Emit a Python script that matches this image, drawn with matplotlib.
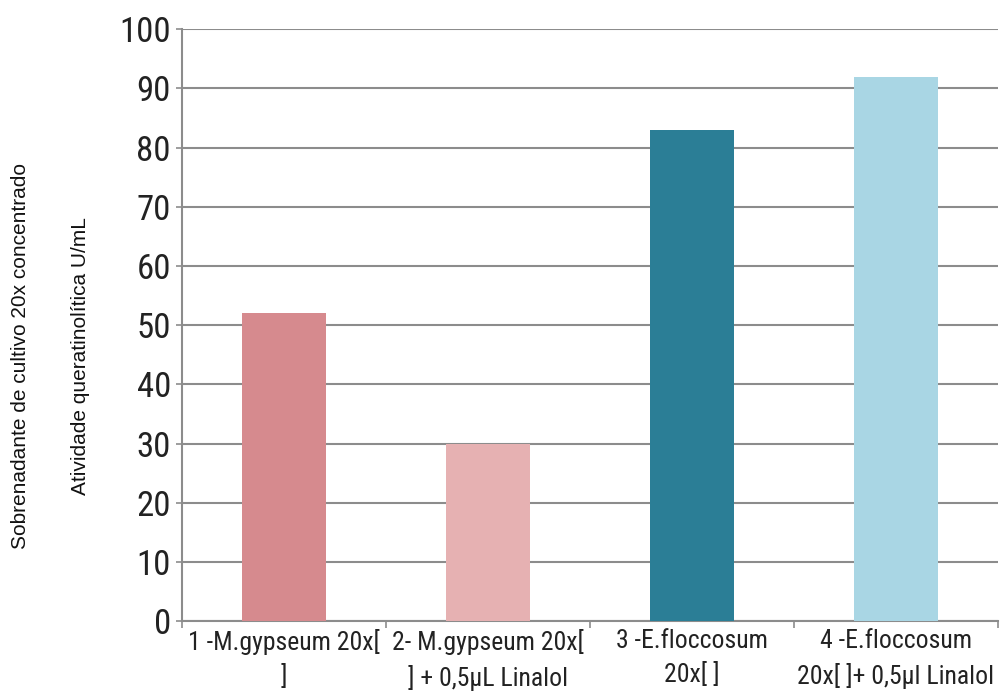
import matplotlib.pyplot as plt
import numpy as np
from matplotlib import font_manager

categories = [
    "1 -M.gypseum 20x[\n]",
    "2- M.gypseum 20x[\n] + 0,5µL Linalol",
    "3 -E.floccosum\n20x[ ]",
    "4 -E.floccosum\n20x[ ]+ 0,5µl Linalol",
]
activity = [52, 30, 83, 92]
bar_colors = ["#d68a8e", "#e6b1b2", "#2b7e96", "#a9d6e4"]
yticks = list(range(0, 101, 10))

# narrow face for tick labels if one is around, otherwise plain Arial metrics
installed = {f.name for f in font_manager.fontManager.ttflist}
narrow_name = next(
    (n for n in ("Liberation Sans Narrow", "Roboto Condensed", "Open Sans Condensed")
     if n in installed),
    None,
)
narrow = [narrow_name or "Liberation Sans", "DejaVu Sans"]
regular = ["Liberation Sans", "DejaVu Sans"]
ytick_size = 25 if narrow_name else 23
xtick_size = 18.5 if narrow_name else 15.5

fig = plt.figure(figsize=(10, 6.97), dpi=100)
ax = fig.add_axes([0.182, 0.109, 0.816, 0.849])

x = np.arange(len(categories))
ax.bar(x, activity, width=0.41, color=bar_colors, zorder=3)

ax.set_xlim(-0.5, len(categories) - 0.5)
ax.set_ylim(0, 100)
ax.set_yticks(yticks)
ax.set_yticklabels([str(v) for v in yticks], family=narrow, fontsize=ytick_size, color="#222222")
ax.yaxis.grid(True, color="#8c8c8c", linewidth=1.5, zorder=0)
ax.tick_params(axis="y", length=4, width=1.2, color="#8c8c8c", pad=4)

ax.set_xticks(x)
ax.set_xticklabels(categories, family=narrow, fontsize=xtick_size, color="#222222", linespacing=1.45)
ax.set_xticks(np.arange(-0.5, len(categories)), minor=True)
ax.tick_params(axis="x", which="major", length=0, pad=6)
ax.tick_params(axis="x", which="minor", length=5, width=1.2, color="#8c8c8c")

for side in ("top", "right"):
    ax.spines[side].set_visible(False)
for side in ("left", "bottom"):
    ax.spines[side].set_color("#8c8c8c")
    ax.spines[side].set_linewidth(1.5)

fig.text(0.021, 0.489, "Sobrenadante de cultivo 20x concentrado", rotation=90,
         ha="center", va="center", family=regular, fontsize=15, color="#111111")
fig.text(0.081, 0.489, "Atividade queratinolítica U/mL", rotation=90,
         ha="center", va="center", family=regular, fontsize=15, color="#111111")

fig.savefig("out.png", dpi=100, facecolor="white")
